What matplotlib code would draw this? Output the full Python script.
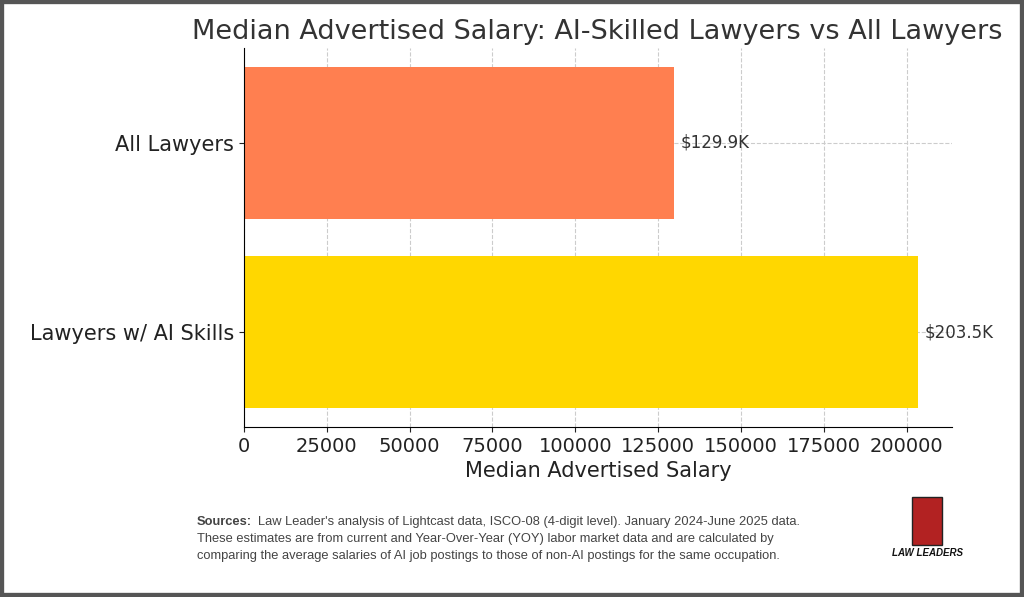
import matplotlib
matplotlib.use("Agg")
import matplotlib.pyplot as plt
from matplotlib.patches import Rectangle

categories = ["Lawyers w/ AI Skills", "All Lawyers"]
values = [203500, 129900]
labels = ["$203.5K", "$129.9K"]
colors = ["#FFD700", "#FF7F50"]

fig = plt.figure(figsize=(10.24, 5.97), dpi=100)
fig.patches.append(Rectangle((0, 0), 1, 1, transform=fig.transFigure, fill=False,
                             edgecolor="#555555", linewidth=6))
ax = fig.add_axes([244/1024, 1-427/597, (952-244)/1024, (427-48)/597])
ax.barh(categories, values, color=colors, height=0.8, zorder=2)
for i, (v, l) in enumerate(zip(values, labels)):
    ax.text(v + 2000, i, l, va="center", ha="left", fontsize=12, color="#333333")
ax.set_xlim(0, 213700)
ax.set_ylim(-0.5, 1.5)
ax.set_xticks(range(0, 200001, 25000))
ax.tick_params(axis="y", labelsize=15, colors="#222222")
ax.tick_params(axis="x", labelsize=14, colors="#222222")
ax.grid(True, linestyle="--", color="#cccccc", linewidth=0.8, zorder=0)
for s in ["top", "right"]:
    ax.spines[s].set_visible(False)
ax.set_xlabel("Median Advertised Salary", fontsize=15, color="#222222")
fig.text(597/1024, 1-32/597, "Median Advertised Salary: AI-Skilled Lawyers vs All Lawyers",
         ha="center", va="center", fontsize=19.5, color="#333333")
ff = "Liberation Sans"
fs = 9.3
x0 = 197/1024
fig.text(x0, 1-522/597, "Sources:", ha="left", va="center", fontsize=fs,
         fontweight="bold", color="#444444", family=ff)
fig.text(258/1024, 1-522/597,
         "Law Leader's analysis of Lightcast data, ISCO-08 (4-digit level). January 2024-June 2025 data.",
         ha="left", va="center", fontsize=fs, color="#444444", family=ff)
fig.text(x0, 1-539/597,
         "These estimates are from current and Year-Over-Year (YOY) labor market data and are calculated by",
         ha="left", va="center", fontsize=fs, color="#444444", family=ff)
fig.text(x0, 1-556/597,
         "comparing the average salaries of AI job postings to those of non-AI postings for the same occupation.",
         ha="left", va="center", fontsize=fs, color="#444444", family=ff)
fig.text(927/1024, 1-553/597, "LAW LEADERS", ha="center", va="center", fontsize=7,
         fontweight="bold", fontstyle="italic", color="#111111", family=ff)
fig.patches.append(Rectangle((912/1024, 1-545/597), 30/1024, 48/597, transform=fig.transFigure,
                             facecolor="#b22222", edgecolor="#222222"))
fig.savefig("out.png", dpi=100)
